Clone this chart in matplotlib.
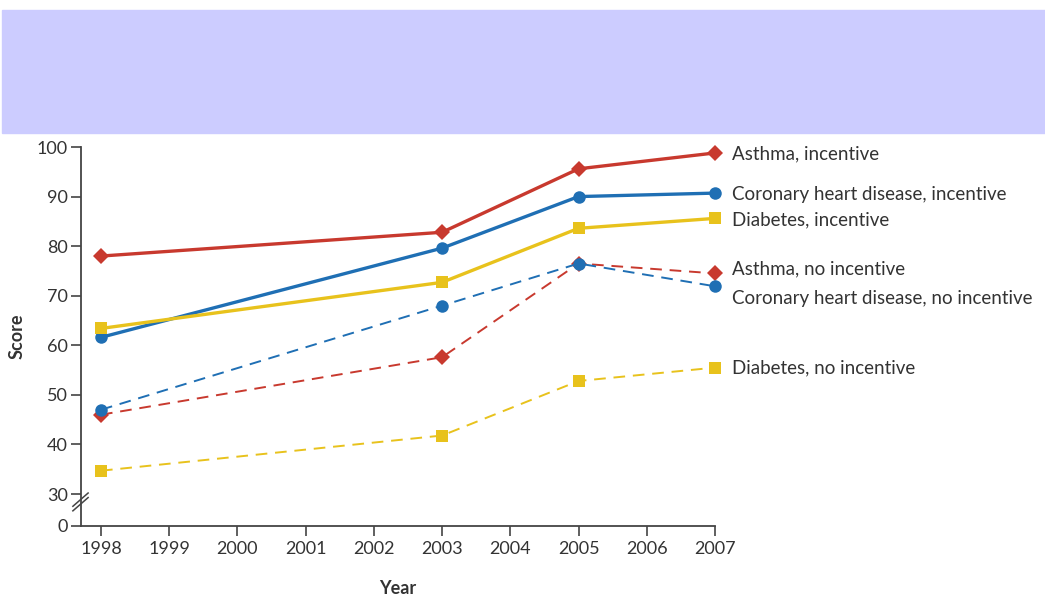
import matplotlib.pyplot as plt
from matplotlib.patches import Rectangle

plt.rcParams["font.family"] = ["Lato", "DejaVu Sans"]

years = [1998, 2003, 2005, 2007]
asthma_inc = [78.0, 82.8, 95.6, 98.8]
chd_inc = [61.6, 79.6, 90.0, 90.7]
diab_inc = [63.4, 72.7, 83.6, 85.6]
asthma_no = [46.0, 57.6, 76.5, 74.5]
chd_no = [47.0, 68.0, 76.5, 71.9]
diab_no = [34.7, 41.8, 52.8, 55.5]

labels = [
    "Asthma, incentive",
    "Coronary heart disease, incentive",
    "Diabetes, incentive",
    "Asthma, no incentive",
    "Coronary heart disease, no incentive",
    "Diabetes, no incentive",
]
# vertical nudge of the end labels, in points
label_dy = [-1, -1, -1, 3, -9, 0]

RED = "#c8392e"
BLUE = "#1f6fb4"
YELLOW = "#e8c21c"

ZERO = 23.55  # where the "0" sits below the axis break

fig = plt.figure(figsize=(10.45, 6.04), dpi=100)
fig.patches.append(Rectangle((2 / 1045, 1 - 133 / 604), 1 - 2 / 1045, 123 / 604,
                             transform=fig.transFigure, color="#ccccff", zorder=0))

ax = fig.add_axes([80.5 / 1045, 1 - 526 / 604, (715 - 80.5) / 1045, (526 - 147) / 604])

series = [
    (asthma_inc, RED, "-", "D", 8.5, 2.4),
    (chd_inc, BLUE, "-", "o", 9, 2.4),
    (diab_inc, YELLOW, "-", "s", 8, 2.4),
    (asthma_no, RED, (0, (6, 4)), "D", 8.5, 1.4),
    (chd_no, BLUE, (0, (6, 4)), "o", 9, 1.4),
    (diab_no, YELLOW, (0, (6, 4)), "s", 8, 1.4),
]

for (vals, col, ls, mk, ms, lw), lab, dy in zip(series, labels, label_dy):
    ax.plot(years, vals, color=col, ls=ls, lw=lw, marker=mk, ms=ms,
            markeredgewidth=0, clip_on=False)
    ax.annotate(lab, (years[-1], vals[-1]), xytext=(12, dy), textcoords="offset points",
                va="center", ha="left", fontsize=13.5, color="#333333",
                annotation_clip=False)

ax.set_xlim(1997.7, 2007)
ax.set_ylim(ZERO, 100)
ax.set_xticks(range(1998, 2008))
ax.set_yticks([ZERO] + list(range(30, 101, 10)))
ax.set_yticklabels(["0"] + [str(v) for v in range(30, 101, 10)])

for side in ["top", "right"]:
    ax.spines[side].set_visible(False)
for side in ["left", "bottom"]:
    ax.spines[side].set_color("#444444")
    ax.spines[side].set_linewidth(1.3)
ax.tick_params(colors="#444444", labelcolor="#333333", labelsize=13, length=7, width=1.2)
ax.tick_params(axis="x", pad=4)
ax.tick_params(axis="y", pad=2)

# axis break marks
for off in [0, 0.012]:
    ax.plot([-0.012, 0.012], [0.04 + off, 0.075 + off], transform=ax.transAxes,
            color="#444444", lw=1.1, clip_on=False)

ax.set_ylabel("Score", fontsize=13, fontweight="bold", color="#333333", labelpad=8)
ax.set_xlabel("Year", fontsize=13, fontweight="bold", color="#333333", labelpad=16)

fig.savefig("out.png", dpi=100)
